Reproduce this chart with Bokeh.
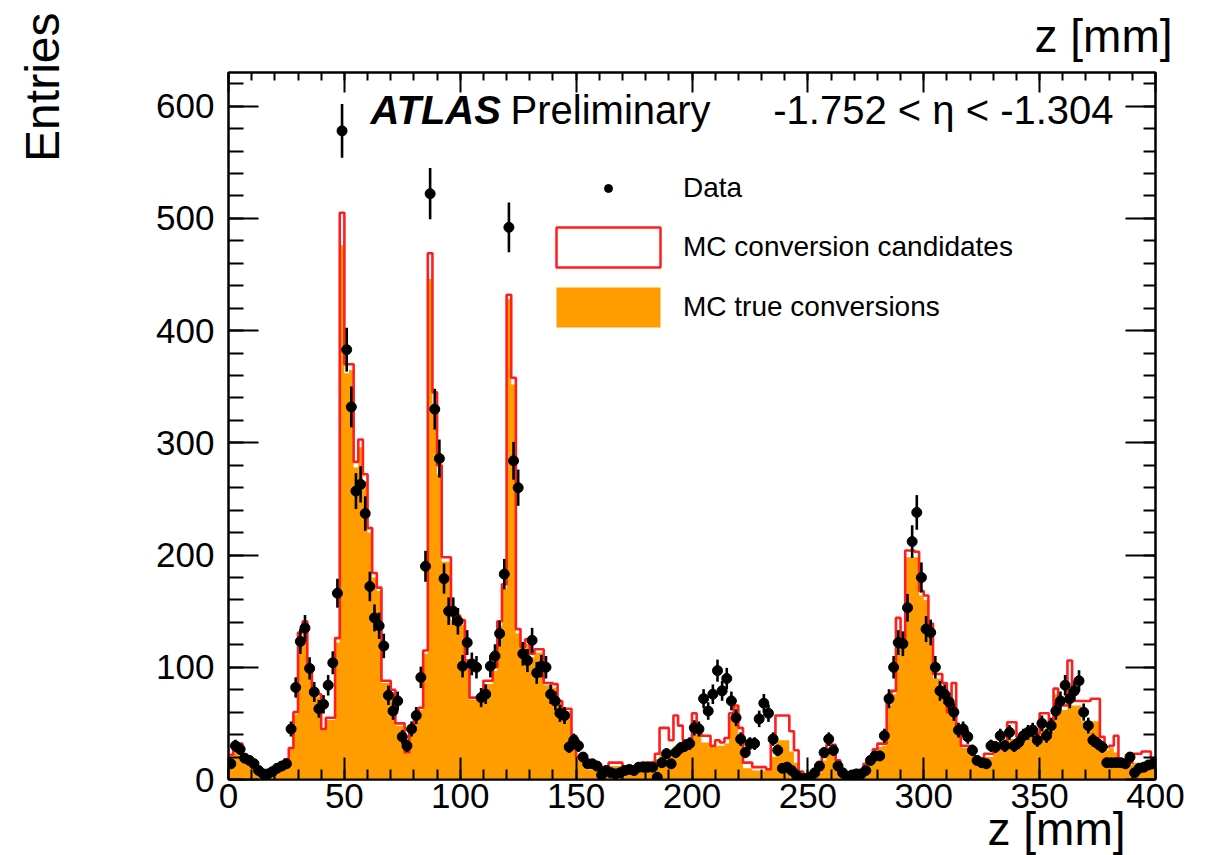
import numpy as np
from bokeh.plotting import figure
from bokeh.models import (SingleIntervalTicker, LinearAxis, Label, Legend, LegendItem,
                          Range1d, CustomJSTickFormatter, Title)
from bokeh.embed import file_html
from bokeh.resources import INLINE

# ---------------- data (2 mm bins, 0 .. 400 mm) ----------------
bin_width = 2.0
z_min, z_max = 0.0, 400.0

data_counts = [
    14, 30, 27, 19, 17, 14, 8, 5, 5, 7,
    10, 12, 14, 45, 82, 123, 135, 99, 78, 63,
    67, 84, 104, 166, 578, 383, 332, 257, 263, 237,
    172, 144, 137, 119, 75, 61, 70, 38, 30, 45,
    57, 91, 190, 522, 330, 286, 179, 150, 150, 141,
    101, 122, 103, 100, 73, 76, 101, 110, 130, 183,
    492, 284, 260, 112, 106, 124, 95, 101, 100, 76,
    70, 59, 57, 29, 35, 30, 20, 14, 14, 12,
    4, 8, 6, 5, 6, 8, 9, 8, 11, 11,
    11, 11, 2, 15, 23, 14, 24, 28, 30, 32,
    46, 45, 72, 61, 76, 97, 79, 90, 70, 55,
    36, 24, 32, 32, 54, 68, 59, 36, 26, 10,
    11, 8, 4, 1, 1, 2, 6, 12, 24, 36,
    26, 12, 6, 1, 4, 5, 5, 8, 17, 21,
    21, 39, 72, 100, 122, 121, 153, 212, 238, 180,
    134, 131, 100, 79, 76, 69, 60, 44, 45, 38,
    26, 17, 15, 14, 30, 29, 39, 30, 42, 30,
    33, 39, 42, 44, 35, 50, 39, 48, 61, 70,
    84, 72, 79, 88, 60, 48, 35, 32, 29, 15,
    15, 15, 15, 14, 20, 6, 10, 11, 13, 14,
]

mc_candidates = [
    22, 30, 32, 22, 14, 10, 7, 5, 5, 6,
    8, 10, 18, 28, 60, 131, 141, 100, 76, 76,
    45, 55, 55, 126, 505, 370, 370, 283, 303, 272,
    224, 184, 171, 88, 88, 80, 50, 50, 24, 43,
    58, 64, 115, 469, 345, 280, 198, 198, 146, 146,
    142, 106, 73, 73, 73, 88, 88, 100, 141, 174,
    432, 358, 134, 118, 125, 112, 116, 116, 86, 86,
    85, 70, 63, 63, 39, 20, 20, 11, 11, 11,
    11, 11, 15, 15, 15, 9, 9, 9, 9, 15,
    15, 15, 23, 46, 46, 35, 57, 48, 35, 35,
    59, 45, 39, 39, 30, 35, 33, 37, 59, 66,
    46, 15, 15, 11, 11, 11, 9, 33, 57, 57,
    57, 43, 26, 7, 3, 2, 4, 8, 20, 31,
    31, 17, 8, 5, 5, 5, 5, 14, 15, 27,
    32, 32, 69, 79, 144, 125, 204, 204, 203, 168,
    164, 139, 94, 94, 86, 60, 86, 46, 30, 30,
    26, 17, 17, 23, 23, 32, 32, 28, 51, 51,
    38, 41, 41, 47, 41, 59, 59, 45, 81, 66,
    66, 106, 70, 70, 70, 70, 72, 72, 38, 29,
    30, 39, 17, 15, 15, 23, 23, 25, 25, 19,
]

mc_true = [
    20, 28, 30, 21, 13, 9, 6, 5, 5, 6,
    7, 10, 16, 27, 58, 125, 138, 98, 74, 74,
    44, 53, 53, 122, 476, 362, 365, 278, 296, 266,
    220, 180, 168, 86, 86, 78, 48, 48, 23, 42,
    56, 62, 112, 446, 335, 272, 194, 194, 142, 142,
    138, 103, 71, 71, 71, 85, 85, 97, 137, 170,
    428, 352, 130, 115, 121, 109, 113, 113, 84, 84,
    82, 68, 61, 61, 37, 18, 18, 9, 9, 9,
    9, 9, 12, 12, 12, 7, 7, 7, 7, 11,
    12, 12, 18, 23, 25, 22, 30, 33, 33, 33,
    50, 40, 33, 33, 30, 30, 30, 32, 55, 65,
    40, 10, 10, 8, 8, 8, 8, 20, 35, 35,
    35, 25, 15, 5, 2, 1, 3, 6, 17, 27,
    28, 14, 6, 4, 4, 4, 4, 11, 13, 24,
    29, 30, 66, 76, 125, 122, 198, 198, 198, 164,
    160, 135, 90, 90, 80, 60, 62, 44, 28, 28,
    24, 15, 15, 20, 20, 29, 29, 26, 36, 36,
    35, 38, 38, 42, 38, 45, 45, 42, 76, 62,
    62, 70, 66, 66, 52, 52, 52, 52, 34, 26,
    28, 24, 15, 13, 13, 15, 15, 15, 15, 15,
]

x_ticks_interval = 50
y_ticks_interval = 100

# ---------------- derived arrays ----------------
edges = np.arange(z_min, z_max + bin_width / 2, bin_width)
centers = 0.5 * (edges[:-1] + edges[1:])
data = np.array(data_counts, dtype=float)
err = np.sqrt(data)
cand_step = list(mc_candidates) + [mc_candidates[-1]]
true_step = list(mc_true) + [mc_true[-1]]

ORANGE = "#FF9C00"
RED = "#FF1E1E"
FONT = "Liberation Sans"

p = figure(width=1206, height=855, x_range=Range1d(0, 400), y_range=Range1d(0, 630),
           output_backend="svg", toolbar_location=None,
           x_axis_type=None, y_axis_type=None,
           min_border_left=228, min_border_right=51, min_border_top=70, min_border_bottom=76)
p.outline_line_color = "black"
p.outline_line_width = 2
p.background_fill_color = "white"
p.border_fill_color = "white"

# histograms
true_r = p.varea_step(x=edges, y1=np.zeros(len(edges)), y2=true_step, step_mode="after",
                      fill_color=ORANGE)
p.step(x=edges, y=cand_step, mode="after", line_color=RED, line_width=2.6)
# same candidate histogram as boxes, used only for its legend entry
cand_legend_r = p.quad(left=edges[:-1], right=edges[1:], top=mc_candidates, bottom=0,
                       fill_color="white", line_color=RED, line_width=2.5, visible=False)

# data with error bars
p.segment(x0=centers, y0=data - err, x1=centers, y1=data + err, line_color="black", line_width=2.6)
data_r = p.scatter(x=centers, y=data, size=10, fill_color="black", line_color="black")

# axes
empty_fmt = CustomJSTickFormatter(code="return ''")

def make_axis(interval, tick_in, minor_in, labels=True):
    ax = LinearAxis(ticker=SingleIntervalTicker(interval=interval, num_minor_ticks=5),
                    major_tick_in=tick_in, major_tick_out=0,
                    minor_tick_in=minor_in, minor_tick_out=0,
                    axis_line_width=2, major_tick_line_width=2, minor_tick_line_width=2,
                    major_label_text_font=FONT, major_label_text_font_size="35px",
                    major_label_text_color="black")
    if not labels:
        ax.formatter = empty_fmt
        ax.major_label_text_font_size = "1px"
    return ax

ax_b = make_axis(x_ticks_interval, 22, 10)
ax_b.major_label_standoff = 4
ax_l = make_axis(y_ticks_interval, 30, 15)
ax_l.major_label_standoff = 14
ax_t = make_axis(x_ticks_interval, 20, 8, labels=False)
ax_r = make_axis(y_ticks_interval, 30, 12, labels=False)
p.add_layout(ax_b, "below")
p.add_layout(ax_l, "left")
p.add_layout(ax_t, "above")
p.add_layout(ax_r, "right")

# blank spacer so that the y title sits far to the left, as in the reference
p.add_layout(Title(text=" ", text_font_size="1px", standoff=82, text_color="white"), "left")
p.add_layout(Title(text="Entries", align="right", vertical_align="bottom", offset=-60, standoff=0,
                   text_font=FONT, text_font_size="48px", text_font_style="normal",
                   text_color="black"), "left")
p.add_layout(Title(text="z [mm]", align="right", vertical_align="top", offset=30, standoff=-16,
                   text_font=FONT, text_font_size="46px", text_font_style="normal",
                   text_color="black"), "below")
p.add_layout(Title(text="z [mm]", align="right", vertical_align="top", offset=-17, standoff=18,
                   text_font=FONT, text_font_size="46px", text_font_style="normal",
                   text_color="black"), "above")

# texts inside the frame
p.add_layout(Label(x=61.3, y=576.7, text="ATLAS", text_font=FONT, text_font_size="40px",
                   text_font_style="bold italic", text_color="black"))
p.add_layout(Label(x=121.7, y=576.7, text="Preliminary", text_font=FONT, text_font_size="40px",
                   text_color="black"))
p.add_layout(Label(x=381.9, y=576.7, text="-1.752 < η < -1.304", text_font=FONT,
                   text_font_size="40px", text_align="right", text_color="black"))

legend_style = dict(padding=0, margin=0, border_line_color=None, background_fill_alpha=0,
                    label_text_font=FONT, label_text_font_size="28px", label_text_color="black",
                    label_standoff=10)
legend_data = Legend(items=[LegendItem(label="Data", renderers=[data_r])],
                     location=(315, 575), glyph_width=130, glyph_height=20, label_height=20,
                     **legend_style)
legend_mc = Legend(items=[LegendItem(label="MC conversion candidates", renderers=[cand_legend_r]),
                          LegendItem(label="MC true conversions", renderers=[true_r])],
                   location=(315, 447), glyph_width=130, glyph_height=50, spacing=10,
                   label_height=50, **legend_style)
p.add_layout(legend_data)
p.add_layout(legend_mc)

open("out.html", "w").write(file_html(p, INLINE))
